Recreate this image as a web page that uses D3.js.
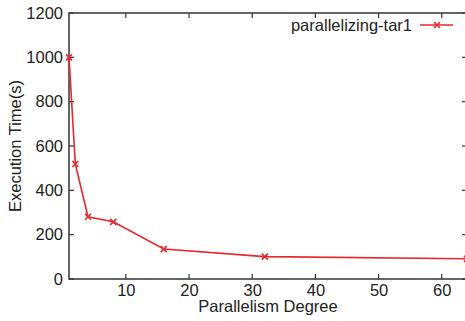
<!DOCTYPE html>
<html><head><meta charset="utf-8">
<script src="https://cdn.jsdelivr.net/npm/d3@7"></script>
<style>body{margin:0;background:#fff}svg{display:block}text{font-family:"Liberation Sans",Arial,sans-serif;fill:#222}</style>
</head><body><svg id="c" width="465" height="321"></svg>
<script>
const degrees = [1, 2, 4, 8, 16, 32, 64];
const times = [1000, 519, 281, 258, 135, 101, 91];
const xTicks = [10, 20, 30, 40, 50, 60];
const yTicks = [0, 200, 400, 600, 800, 1000, 1200];
const seriesName = "parallelizing-tar1";

const svg = d3.select("#c");
const L = 69, R = 467, T = 13, B = 279;
const x = d3.scaleLinear().domain([1, 64]).range([L, R]);
const y = d3.scaleLinear().domain([0, 1200]).range([B, T]);
const axisCol = "#333";
const red = "#e8262d";
const fs = 16.5;

// frame
svg.append("rect").attr("x", L).attr("y", T).attr("width", R - L).attr("height", B - T)
  .attr("fill", "none").attr("stroke", axisCol).attr("stroke-width", 1.5);

// bottom axis
const xb = svg.append("g").attr("transform", `translate(0,${B})`)
  .call(d3.axisBottom(x).tickValues(xTicks).tickFormat(d3.format("d")).tickSize(0).tickPadding(5));
xb.select(".domain").remove();
xb.selectAll("text").attr("font-size", fs).attr("fill", "#222").style("font-family", '"Liberation Sans",Arial,sans-serif');
xTicks.forEach(v => {
  svg.append("line").attr("x1", x(v)).attr("x2", x(v)).attr("y1", B).attr("y2", B - 5).attr("stroke", axisCol).attr("stroke-width", 1.2);
  svg.append("line").attr("x1", x(v)).attr("x2", x(v)).attr("y1", T).attr("y2", T + 5).attr("stroke", axisCol).attr("stroke-width", 1.2);
});

// left axis
const yl = svg.append("g").attr("transform", `translate(${L},0)`)
  .call(d3.axisLeft(y).tickValues(yTicks).tickFormat(d3.format("d")).tickSize(0).tickPadding(6));
yl.select(".domain").remove();
yl.selectAll("text").attr("font-size", fs).attr("fill", "#222").style("font-family", '"Liberation Sans",Arial,sans-serif');
yTicks.forEach(v => {
  svg.append("line").attr("x1", L).attr("x2", L + 5).attr("y1", y(v)).attr("y2", y(v)).attr("stroke", axisCol).attr("stroke-width", 1.2);
  svg.append("line").attr("x1", R).attr("x2", R - 5).attr("y1", y(v)).attr("y2", y(v)).attr("stroke", axisCol).attr("stroke-width", 1.2);
});

// axis titles
svg.append("text").attr("x", 268).attr("y", 312).attr("text-anchor", "middle").attr("font-size", fs).text("Parallelism Degree");
svg.append("text").attr("transform", `translate(21,${(T + B) / 2}) rotate(-90)`).attr("text-anchor", "middle").attr("font-size", fs).text("Execution Time(s)");

const data = degrees.map((d, i) => ({ d, t: times[i] }));
const g = svg.append("g");
g.append("path").datum(data)
  .attr("d", d3.line().x(p => x(p.d)).y(p => y(p.t)))
  .attr("fill", "none").attr("stroke", red).attr("stroke-width", 1.6);

function cross(sel, cx, cy) {
  const s = 3;
  sel.append("path").attr("d", `M${cx - s},${cy - s}L${cx + s},${cy + s}M${cx - s},${cy + s}L${cx + s},${cy - s}`)
    .attr("stroke", red).attr("stroke-width", 1.6).attr("fill", "none");
}
data.forEach(p => cross(g, x(p.d), y(p.t)));

// legend
svg.append("text").attr("x", 412).attr("y", 31).attr("text-anchor", "end").attr("font-size", fs).text(seriesName);
svg.append("line").attr("x1", 420).attr("x2", 453).attr("y1", 25).attr("y2", 25).attr("stroke", red).attr("stroke-width", 1.6);
cross(svg, 437, 25);
</script></body></html>
